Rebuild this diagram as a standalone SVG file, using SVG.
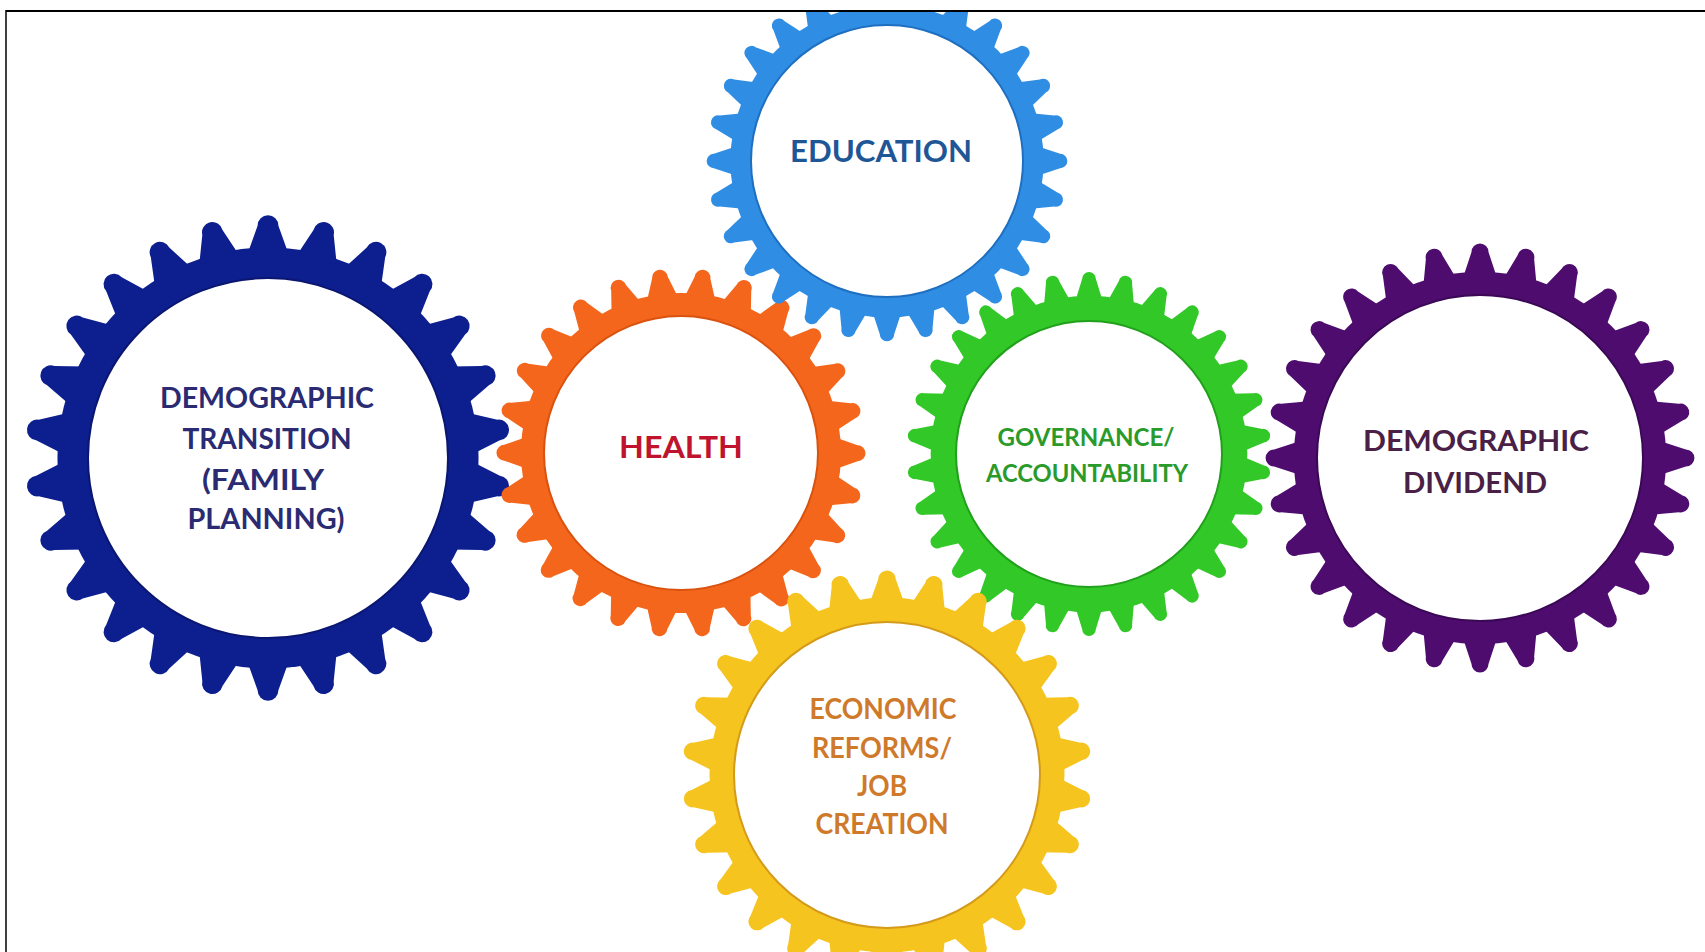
<svg xmlns="http://www.w3.org/2000/svg" width="1705" height="952" viewBox="0 0 1705 952">
<style>
.lbl{font-family:Lato,"Liberation Sans",sans-serif;font-weight:700;text-anchor:middle}
.ring{stroke-width:2}
</style>
<defs>
<path id="tooth" d="M-8.6,-84 L-4.3,-96 A4.3,4.3 0 0 1 4.3,-96 L8.6,-84 Z"/>
<path id="tooth28" d="M-8,-84 L-4,-96.2 A4,4 0 0 1 4,-96.2 L8,-84 Z"/>
<path id="tooth30" d="M-7.5,-84 L-3.75,-96.3 A3.75,3.75 0 0 1 3.75,-96.3 L7.5,-84 Z"/>
<g id="t26">
<use href="#tooth"/>
<use href="#tooth" transform="rotate(13.846)"/>
<use href="#tooth" transform="rotate(27.692)"/>
<use href="#tooth" transform="rotate(41.538)"/>
<use href="#tooth" transform="rotate(55.385)"/>
<use href="#tooth" transform="rotate(69.231)"/>
<use href="#tooth" transform="rotate(83.077)"/>
<use href="#tooth" transform="rotate(96.923)"/>
<use href="#tooth" transform="rotate(110.769)"/>
<use href="#tooth" transform="rotate(124.615)"/>
<use href="#tooth" transform="rotate(138.462)"/>
<use href="#tooth" transform="rotate(152.308)"/>
<use href="#tooth" transform="rotate(166.154)"/>
</g>
<g id="g26"><circle r="87"/><use href="#t26"/><use href="#t26" transform="rotate(180)"/></g>
<g id="t28">
<use href="#tooth28"/>
<use href="#tooth28" transform="rotate(12.857)"/>
<use href="#tooth28" transform="rotate(25.714)"/>
<use href="#tooth28" transform="rotate(38.571)"/>
<use href="#tooth28" transform="rotate(51.429)"/>
<use href="#tooth28" transform="rotate(64.286)"/>
<use href="#tooth28" transform="rotate(77.143)"/>
</g>
<g id="g28"><circle r="87"/><use href="#t28"/><use href="#t28" transform="rotate(90)"/><use href="#t28" transform="rotate(180)"/><use href="#t28" transform="rotate(270)"/></g>
<g id="t30">
<use href="#tooth30"/>
<use href="#tooth30" transform="rotate(12)"/>
<use href="#tooth30" transform="rotate(24)"/>
<use href="#tooth30" transform="rotate(36)"/>
<use href="#tooth30" transform="rotate(48)"/>
</g>
<g id="g30"><circle r="87"/><use href="#t30"/><use href="#t30" transform="rotate(60)"/><use href="#t30" transform="rotate(120)"/><use href="#t30" transform="rotate(180)"/><use href="#t30" transform="rotate(240)"/><use href="#t30" transform="rotate(300)"/></g>
</defs>
<rect x="0" y="0" width="1705" height="952" fill="#ffffff"/>

<g id="node-transition">
<use href="#g26" transform="translate(268,458) scale(2.42)" fill="#0d1f8f"/>
<circle class="ring" cx="268" cy="458" r="180" fill="#ffffff" stroke="#0a1670"/>
<g class="lbl" fill="#2a2b72" font-size="29">
<text x="267" y="408" textLength="214" lengthAdjust="spacingAndGlyphs">DEMOGRAPHIC</text>
<text x="267" y="449" textLength="169" lengthAdjust="spacingAndGlyphs">TRANSITION</text>
<text x="263" y="490" textLength="122" lengthAdjust="spacingAndGlyphs">(FAMILY</text>
<text x="266" y="529" textLength="157" lengthAdjust="spacingAndGlyphs">PLANNING)</text>
</g>
</g>

<g id="node-health">
<use href="#g26" transform="translate(681,453) scale(1.84) rotate(7)" fill="#f4661b"/>
<circle class="ring" cx="681" cy="453" r="137" fill="#ffffff" stroke="#d9520f"/>
<text class="lbl" x="681" y="458" font-size="31" fill="#c0142e" textLength="124" lengthAdjust="spacingAndGlyphs">HEALTH</text>
</g>

<g id="node-education">
<use href="#g28" transform="translate(887,161) scale(1.8)" fill="#2f8de4"/>
<circle class="ring" cx="887" cy="161" r="136" fill="#ffffff" stroke="#1f6fc0"/>
<text class="lbl" x="881" y="162" font-size="31" fill="#1f5696" textLength="182" lengthAdjust="spacingAndGlyphs">EDUCATION</text>
</g>

<g id="node-governance">
<use href="#g30" transform="translate(1089,454) scale(1.82)" fill="#32c828"/>
<circle class="ring" cx="1089" cy="454" r="133" fill="#ffffff" stroke="#22a01c"/>
<g class="lbl" fill="#2a9a2a" font-size="25">
<text x="1086" y="446" textLength="177" lengthAdjust="spacingAndGlyphs">GOVERNANCE/</text>
<text x="1087" y="482" textLength="202" lengthAdjust="spacingAndGlyphs">ACCOUNTABILITY</text>
</g>
</g>

<g id="node-dividend">
<use href="#g28" transform="translate(1480,458) scale(2.14)" fill="#4e0d6e"/>
<circle class="ring" cx="1480" cy="458" r="163" fill="#ffffff" stroke="#3a0855"/>
<g class="lbl" fill="#4a2046" font-size="29">
<text x="1476" y="451" textLength="226" lengthAdjust="spacingAndGlyphs">DEMOGRAPHIC</text>
<text x="1475" y="493" textLength="144" lengthAdjust="spacingAndGlyphs">DIVIDEND</text>
</g>
</g>

<g id="node-economic">
<use href="#g26" transform="translate(887,775) scale(2.04)" fill="#f6c41f"/>
<circle class="ring" cx="887" cy="775" r="153" fill="#ffffff" stroke="#d49a1a"/>
<g class="lbl" fill="#cf7a2a" font-size="28">
<text x="883" y="719" textLength="147" lengthAdjust="spacingAndGlyphs">ECONOMIC</text>
<text x="882" y="758" textLength="140" lengthAdjust="spacingAndGlyphs">REFORMS/</text>
<text x="882" y="796" textLength="50" lengthAdjust="spacingAndGlyphs">JOB</text>
<text x="882" y="834" textLength="133" lengthAdjust="spacingAndGlyphs">CREATION</text>
</g>
</g>

<g id="connectors"></g>

<g id="frame">
<rect x="0" y="0" width="1705" height="10" fill="#ffffff"/>
<line x1="6" y1="11" x2="1705" y2="11" stroke="#000000" stroke-width="2"/>
<line x1="6" y1="10" x2="6" y2="952" stroke="#000000" stroke-width="1.5"/>
</g>
</svg>
